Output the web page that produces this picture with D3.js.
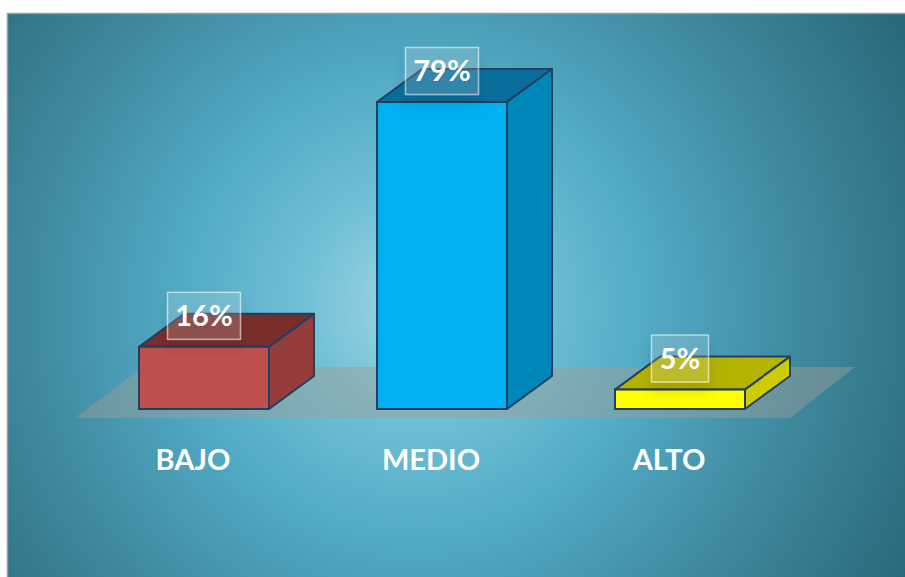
<!DOCTYPE html>
<html>
<head>
<meta charset="utf-8">
<script src="https://cdn.jsdelivr.net/npm/d3@7"></script>
<style>
  html, body { margin: 0; padding: 0; background: #ffffff; }
  svg { display: block; }
</style>
</head>
<body>
<svg id="chart" width="905" height="577"></svg>
<script>
// Data
const categories = ["BAJO", "MEDIO", "ALTO"];
const values = [16, 79, 5];
const valueLabels = ["16%", "79%", "5%"];
const frontColors = ["#C0504D", "#00B0F0", "#FFFF00"];
const topColors = ["#7A2E2B", "#0A6E9C", "#B3B300"];
const sideColors = ["#953D3A", "#0087B9", "#CCCC00"];

const W = 905, H = 577;
const svg = d3.select("#chart");
const defs = svg.append("defs");

// Background radial gradient
const bg = defs.append("radialGradient")
  .attr("id", "bgGrad")
  .attr("gradientUnits", "userSpaceOnUse")
  .attr("cx", 415).attr("cy", 305).attr("r", 560)
  .attr("fx", 415).attr("fy", 305);
[[0, "#a2d6e6"], [0.2, "#70c0d6"], [0.42, "#52aac4"], [0.7, "#3e889e"], [1, "#2a697a"]]
  .forEach(([o, c]) => bg.append("stop").attr("offset", o).attr("stop-color", c));

// Soft shadow for value label boxes
const sh = defs.append("filter").attr("id", "boxShadow")
  .attr("x", "-50%").attr("y", "-50%").attr("width", "200%").attr("height", "200%");
sh.append("feGaussianBlur").attr("in", "SourceAlpha").attr("stdDeviation", 6).attr("result", "b");
sh.append("feOffset").attr("in", "b").attr("dx", 0).attr("dy", 8).attr("result", "o");
sh.append("feFlood").attr("flood-color", "#000000").attr("flood-opacity", 0.45).attr("result", "f");
sh.append("feComposite").attr("in", "f").attr("in2", "o").attr("operator", "in").attr("result", "s");
const m = sh.append("feMerge");
m.append("feMergeNode").attr("in", "s");
m.append("feMergeNode").attr("in", "SourceGraphic");

// Chart area
svg.append("rect")
  .attr("x", 7.5).attr("y", 13.5)
  .attr("width", W + 10).attr("height", H + 10)
  .attr("fill", "url(#bgGrad)")
  .attr("stroke", "#9a9a9a").attr("stroke-width", 1.5);

// Scales
const x = d3.scaleBand()
  .domain(categories)
  .range([85, 799])
  .paddingInner(0.4538)
  .paddingOuter(0.2269);
const y = d3.scaleLinear().domain([0, 100]).range([409, 20.4]);

const depthX = 45, depthY = -33;

// Floor
const floorFront = 418, floorBack = 367;
svg.append("path")
  .attr("d", `M75,${floorFront} L790,${floorFront} L855,${floorBack} L143,${floorBack} Z`)
  .attr("fill", "#a09e94")
  .attr("fill-opacity", 0.45);

const rows = categories.map((c, i) => ({
  cat: c, value: values[i], label: valueLabels[i],
  front: frontColors[i], top: topColors[i], side: sideColors[i]
}));

const stroke = "#243F60";
const bars = svg.append("g").selectAll("g").data(rows).join("g");

bars.each(function(d) {
  const g = d3.select(this);
  const x0 = x(d.cat), x1 = x0 + x.bandwidth();
  const y0 = y(0), y1 = y(d.value);
  // top face
  g.append("path")
    .attr("d", `M${x0},${y1} L${x0 + depthX},${y1 + depthY} L${x1 + depthX},${y1 + depthY} L${x1},${y1} Z`)
    .attr("fill", d.top).attr("stroke", stroke).attr("stroke-width", 2).attr("stroke-linejoin", "round");
  // side face
  g.append("path")
    .attr("d", `M${x1},${y1} L${x1 + depthX},${y1 + depthY} L${x1 + depthX},${y0 + depthY} L${x1},${y0} Z`)
    .attr("fill", d.side).attr("stroke", stroke).attr("stroke-width", 2).attr("stroke-linejoin", "round");
  // front face
  g.append("rect")
    .attr("x", x0).attr("y", y1)
    .attr("width", x1 - x0).attr("height", y0 - y1)
    .attr("fill", d.front).attr("stroke", stroke).attr("stroke-width", 2);
});

// Value labels
const boxW = d => d.label.length === 2 ? 57 : 73;
const labels = svg.append("g").selectAll("g").data(rows).join("g")
  .attr("transform", d => `translate(${x(d.cat) + x.bandwidth() / 2},${y(d.value) - 31})`);

labels.append("rect")
  .attr("x", d => -boxW(d) / 2)
  .attr("y", -23.5)
  .attr("width", boxW)
  .attr("height", 47)
  .attr("fill", "#ffffff").attr("fill-opacity", 0.14)
  .attr("stroke", "#ffffff").attr("stroke-opacity", 0.55).attr("stroke-width", 1.5)
  .attr("filter", "url(#boxShadow)");

labels.append("text")
  .attr("text-anchor", "middle")
  .attr("dy", "0.36em")
  .attr("font-family", "Lato, 'Open Sans', sans-serif")
  .attr("font-weight", 700)
  .attr("font-size", 29)
  .attr("fill", "#ffffff")
  .text(d => d.label);

// Category axis labels
svg.append("g").selectAll("text").data(categories).join("text")
  .attr("x", d => x(d) + x.bandwidth() / 2 - 11)
  .attr("y", 470)
  .attr("text-anchor", "middle")
  .attr("font-family", "Lato, 'Open Sans', sans-serif")
  .attr("font-weight", 700)
  .attr("font-size", 29)
  .attr("fill", "#ffffff")
  .text(d => d);
</script>
</body>
</html>
